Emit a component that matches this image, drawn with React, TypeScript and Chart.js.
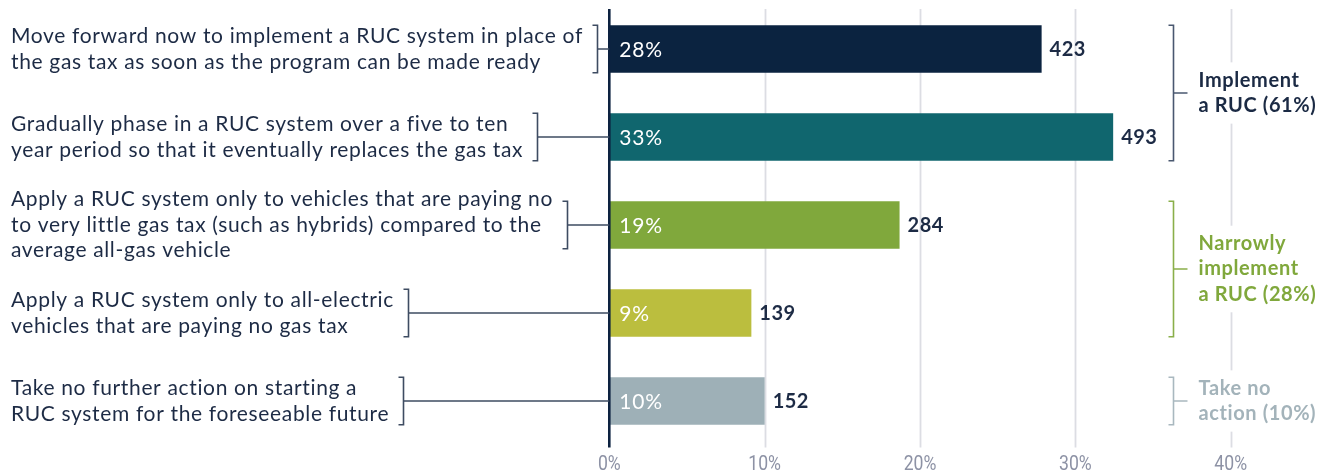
import { useEffect, useRef } from "react";
import Chart from "chart.js/auto";

// Answer options, one array of wrapped lines per bar
const optionLines: string[][] = [
  ["Move forward now to implement a RUC system in place of", "the gas tax as soon as the program can be made ready"],
  ["Gradually phase in a RUC system over a five to ten", "year period so that it eventually replaces the gas tax"],
  [
    "Apply a RUC system only to vehicles that are paying no",
    "to very little gas tax (such as hybrids) compared to the",
    "average all-gas vehicle",
  ],
  ["Apply a RUC system only to all-electric", "vehicles that are paying no gas tax"],
  ["Take no further action on starting a", "RUC system for the foreseeable future"],
];

// Respondent counts per option and the printed shares
const counts = [423, 493, 284, 139, 152];
const shareLabels = ["28%", "33%", "19%", "9%", "10%"];
const respondents = 1520;

const barColors = ["#0b2340", "#10666e", "#80a83c", "#bbbe3e", "#9eb0b7"];

// Summary groups on the right
const groupLines: string[][] = [
  ["Implement", "a RUC (61%)"],
  ["Narrowly", "implement", "a RUC (28%)"],
  ["Take no", "action (10%)"],
];
const groupRanges: [number, number][] = [
  [0, 1],
  [2, 3],
  [4, 4],
];
const groupTextColors = ["#1b2a44", "#80a83c", "#a3b3ba"];
const groupBracketColors = ["#4a5870", "#8aaf4a", "#a9b8bf"];

const xMin = 0;
const xMax = 40;
const xStep = 10;

const TEXT_FONT = "Lato, 'Noto Sans', sans-serif";
const NAVY = "#1d2b45";
const BRACKET = "#3e4c62";

export default function App() {
  const ref = useRef<HTMLCanvasElement>(null);

  useEffect(() => {
    const canvas = ref.current;
    if (!canvas) return;

    const gridPlugin = {
      id: "gridLines",
      beforeDatasetsDraw(chart: any) {
        const { ctx, chartArea, scales } = chart;
        const x = scales.x;
        ctx.save();
        ctx.strokeStyle = "#dcdde3";
        ctx.lineWidth = 1.8;
        for (const t of x.ticks) {
          if (t.value === 0) continue;
          const px = Math.round(x.getPixelForValue(t.value)) + 0.5;
          ctx.beginPath();
          ctx.moveTo(px, chartArea.top + 4);
          ctx.lineTo(px, chartArea.bottom + 2.5);
          ctx.stroke();
        }
        // condensed percentage tick labels under the plot
        ctx.fillStyle = "#8d92a5";
        ctx.font = "400 21px Roboto, sans-serif";
        ctx.textAlign = "center";
        ctx.textBaseline = "middle";
        for (const t of x.ticks) {
          const px = x.getPixelForValue(t.value);
          ctx.save();
          ctx.translate(px, chartArea.bottom + 20);
          ctx.scale(0.84, 1);
          ctx.fillText(`${t.value}%`, 0, 0);
          ctx.restore();
        }
        ctx.restore();
      },
    };

    const annotatePlugin = {
      id: "annotations",
      afterDatasetsDraw(chart: any) {
        const { ctx, chartArea, scales } = chart;
        const x = scales.x;
        const meta = chart.getDatasetMeta(0);
        const zeroX = x.getPixelForValue(0);

        ctx.save();
        // value axis at zero
        ctx.strokeStyle = "#0d2240";
        ctx.lineWidth = 2.6;
        ctx.beginPath();
        ctx.moveTo(zeroX, chartArea.top + 4);
        ctx.lineTo(zeroX, chartArea.bottom + 2.5);
        ctx.stroke();

        // labels inside and after each bar
        ctx.textBaseline = "middle";
        meta.data.forEach((bar: any, i: number) => {
          ctx.fillStyle = "#ffffff";
          ctx.font = `400 21px ${TEXT_FONT}`;
          ctx.letterSpacing = "0.8px";
          ctx.textAlign = "left";
          ctx.fillText(shareLabels[i], zeroX + 10, bar.y + 1);
          ctx.fillStyle = NAVY;
          ctx.font = `700 20px ${TEXT_FONT}`;
          ctx.letterSpacing = "0.5px";
          ctx.fillText(String(counts[i]), bar.x + 8, bar.y + 1);
        });

        // option texts with brackets joined to the axis
        ctx.font = `400 21px ${TEXT_FONT}`;
        ctx.letterSpacing = "0.65px";
        const lh = 25.5;
        meta.data.forEach((bar: any, i: number) => {
          const lines = optionLines[i];
          const top = bar.y - ((lines.length - 1) * lh) / 2;
          let maxW = 0;
          ctx.fillStyle = NAVY;
          ctx.textAlign = "left";
          lines.forEach((ln, k) => {
            ctx.fillText(ln, 11, top + k * lh);
            maxW = Math.max(maxW, ctx.measureText(ln).width);
          });
          const bx = Math.round(11 + maxW + 14) + 0.5;
          const y0 = bar.y - bar.height / 2;
          const y1 = bar.y + bar.height / 2;
          ctx.strokeStyle = BRACKET;
          ctx.lineWidth = 1.6;
          ctx.beginPath();
          ctx.moveTo(bx - 5, y0);
          ctx.lineTo(bx, y0);
          ctx.lineTo(bx, y1);
          ctx.lineTo(bx - 5, y1);
          ctx.moveTo(bx, bar.y);
          ctx.lineTo(zeroX, bar.y);
          ctx.stroke();
        });

        // group summaries on the right
        const glh = 25.3;
        const bracketX = Math.round(x.getPixelForValue(36.27)) + 0.5;
        ctx.letterSpacing = "0.6px";
        groupLines.forEach((lines, g) => {
          const [a, b] = groupRanges[g];
          const y0 = meta.data[a].y - meta.data[a].height / 2;
          const y1 = meta.data[b].y + meta.data[b].height / 2;
          const mid = (y0 + y1) / 2;
          const tx = bracketX + 25;
          ctx.font = `700 20px ${TEXT_FONT}`;
          let maxW = 0;
          lines.forEach((ln) => (maxW = Math.max(maxW, ctx.measureText(ln).width)));
          const first = mid - ((lines.length - 1) * glh) / 2;
          ctx.fillStyle = "#ffffff";
          ctx.fillRect(tx - 4, first - 18, maxW + 8, (lines.length - 1) * glh + 36);
          ctx.fillStyle = groupTextColors[g];
          ctx.textAlign = "left";
          lines.forEach((ln, k) => ctx.fillText(ln, tx, first + k * glh));
          ctx.strokeStyle = groupBracketColors[g];
          ctx.lineWidth = 1.6;
          ctx.beginPath();
          ctx.moveTo(bracketX - 5, y0);
          ctx.lineTo(bracketX, y0);
          ctx.lineTo(bracketX, y1);
          ctx.lineTo(bracketX - 5, y1);
          ctx.moveTo(bracketX, mid);
          ctx.lineTo(bracketX + 14, mid);
          ctx.stroke();
        });
        ctx.restore();
      },
    };

    const chart = new Chart(canvas, {
      type: "bar",
      data: {
        labels: optionLines.map((l) => l.join(" ")),
        datasets: [
          {
            data: counts.map((c) => (c / respondents) * 100),
            backgroundColor: barColors,
            barPercentage: 0.54,
            categoryPercentage: 1,
          },
        ],
      },
      options: {
        indexAxis: "y",
        responsive: false,
        animation: false,
        layout: { padding: { left: 609.3, right: 105.3, top: 5, bottom: 31 } },
        plugins: { legend: { display: false }, tooltip: { enabled: false } },
        scales: {
          x: {
            min: xMin,
            max: xMax,
            grid: { display: false, drawTicks: false, tickLength: 0 },
            border: { display: false },
            ticks: { stepSize: xStep, display: false, padding: 0 },
          },
          y: { display: false },
        },
      },
      plugins: [gridPlugin, annotatePlugin],
    });

    return () => chart.destroy();
  }, []);

  return (
    <div style={{ position: "fixed", left: 0, top: 0, width: 1336, height: 476, background: "#ffffff" }}>
      <canvas ref={ref} width={1336} height={476} style={{ display: "block" }} />
    </div>
  );
}
